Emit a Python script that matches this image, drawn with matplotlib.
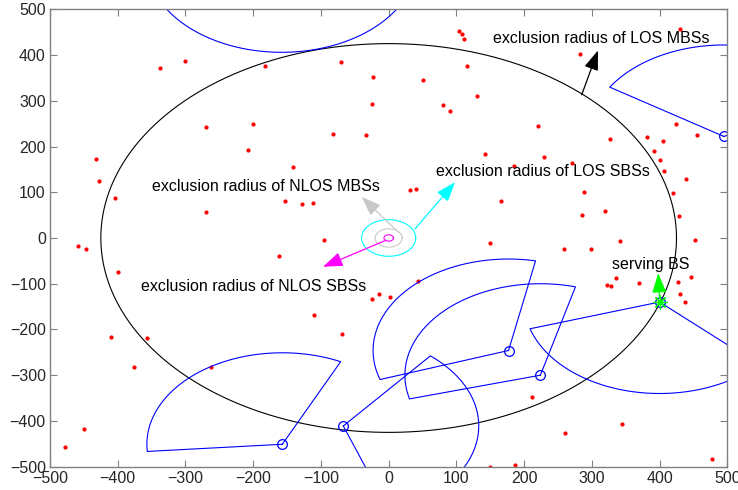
import numpy as np
import matplotlib.pyplot as plt

plt.rcParams['font.family'] = ['Liberation Sans', 'DejaVu Sans']

# interfering points (red dots)
pts_x = [-338, -300, -183, -70, -270, -201, -207, -82, -34, -432, -428, -404, -270, -141,
         -153, -128, -111, -96, -458, -447, 104, 109, 111, 430, 282, 116, -23, 51, 131, -25,
         80, 91, 221, 327, 381, 405, 424, 455, 392, 401, 407, 439, 420, 429, 452, 142, 229,
         185, 271, 31, 41, 166, 288, 285, 319, 342, 299, 259, 150, 44, -24, -14, 2, 335, 322,
         328, 369, 427, 446, 430, 438, 212, 344, 261, 477, 150, 186, -162, -399, -110, -69,
         -410, -357, -376, -262, -450, -478]
pts_y = [372, 386, 375, 385, 243, 249, 193, 228, 226, 173, 124, 88, 56, 156, 80, 74, 77, -5,
         -17, -23, 453, 445, 436, 458, 403, 376, 351, 345, 310, 292, 290, 278, 244, 217, 220,
         212, 249, 226, 190, 171, 147, 130, 98, 48, -4, 184, 177, 158, 163, 104, 107, 80, 101,
         51, 59, -7, -23, -25, -12, -93, -134, -123, -129, -87, -103, -105, -98, -96, -85,
         -122, -141, -347, -407, -426, -484, -500, -497, -40, -75, -168, -210, -217, -218,
         -281, -281, -418, -458]

# base stations with 120 degree sectors
bs_x = [-157, -67, 177, 224, 400, 495, -158]
bs_y = [-451, -411, -246, -300, -140, 222, 606]
sec_start = [64.5, -70, 78.5, 75, 197, 27.4, 209]
sec_width = 120
sec_r = 200

# exclusion radii around origin
r_los_mbs = 425
r_los_sbs = 40
r_nlos_mbs = 20
r_nlos_sbs = 7

serving = (400, -140)

fig = plt.figure(figsize=(7.38, 4.9), dpi=100)
ax = fig.add_axes([0.0678, 0.0476, 0.9177, 0.9334])

t = np.linspace(0, 2 * np.pi, 400)
ax.plot(r_los_mbs * np.cos(t), r_los_mbs * np.sin(t), color='k', lw=0.8)
ax.plot(r_los_sbs * np.cos(t), r_los_sbs * np.sin(t), color='#00ffff', lw=0.8)
ax.plot(r_nlos_mbs * np.cos(t), r_nlos_mbs * np.sin(t), color='#cbc8c4', lw=0.8)
ax.plot(r_nlos_sbs * np.cos(t), r_nlos_sbs * np.sin(t), color='#ff00ff', lw=0.8)

ax.plot(pts_x, pts_y, '.', color='red', ms=4, clip_on=True)

for x0, y0, a0 in zip(bs_x, bs_y, sec_start):
    a = np.radians(np.linspace(a0, a0 + sec_width, 100))
    xs = np.concatenate([[x0], x0 + sec_r * np.cos(a), [x0]])
    ys = np.concatenate([[y0], y0 + sec_r * np.sin(a), [y0]])
    ax.plot(xs, ys, color='blue', lw=0.8)
    ax.plot(x0, y0, 'o', color='blue', mfc='none', ms=7, mew=0.9)

ax.plot(*serving, marker=(8, 2, 0), color='#00ff00', ms=10, mew=0.9)

def arrow(p0, p1, c):
    ax.annotate('', xy=p1, xytext=p0,
                arrowprops=dict(arrowstyle='-|>,head_length=1.1,head_width=0.4',
                                color=c, lw=0.9, mutation_scale=11,
                                shrinkA=0, shrinkB=0))

arrow((285, 313), (309, 410), 'k')
arrow((39, 20), (98, 122), '#00ffff')
arrow((14, 13), (-40, 90), '#c8c8c8')
arrow((-4, -5), (-97, -63), '#ff00ff')
arrow((400, -133), (398, -77), '#00ff00')

fs = 11.5
ax.text(154, 436, 'exclusion radius of LOS MBSs', fontsize=fs, va='center')
ax.text(70, 146, 'exclusion radius of LOS SBSs', fontsize=fs, va='center')
ax.text(-350, 113, 'exclusion radius of NLOS MBSs', fontsize=fs, va='center')
ax.text(-366, -107, 'exclusion radius of NLOS SBSs', fontsize=fs, va='center')
ax.text(330, -57, 'serving BS', fontsize=fs, va='center')

ax.set_xlim(-500, 500)
ax.set_ylim(-500, 500)
ax.set_xticks(np.arange(-500, 501, 100))
ax.set_yticks(np.arange(-500, 501, 100))
ax.tick_params(direction='in', top=True, right=True, length=5, width=0.8,
               color='#808080', labelsize=fs, labelcolor='#262626', pad=3)
for s in ax.spines.values():
    s.set_color('#808080')
    s.set_linewidth(1.0)

fig.savefig('out.png', dpi=100)
